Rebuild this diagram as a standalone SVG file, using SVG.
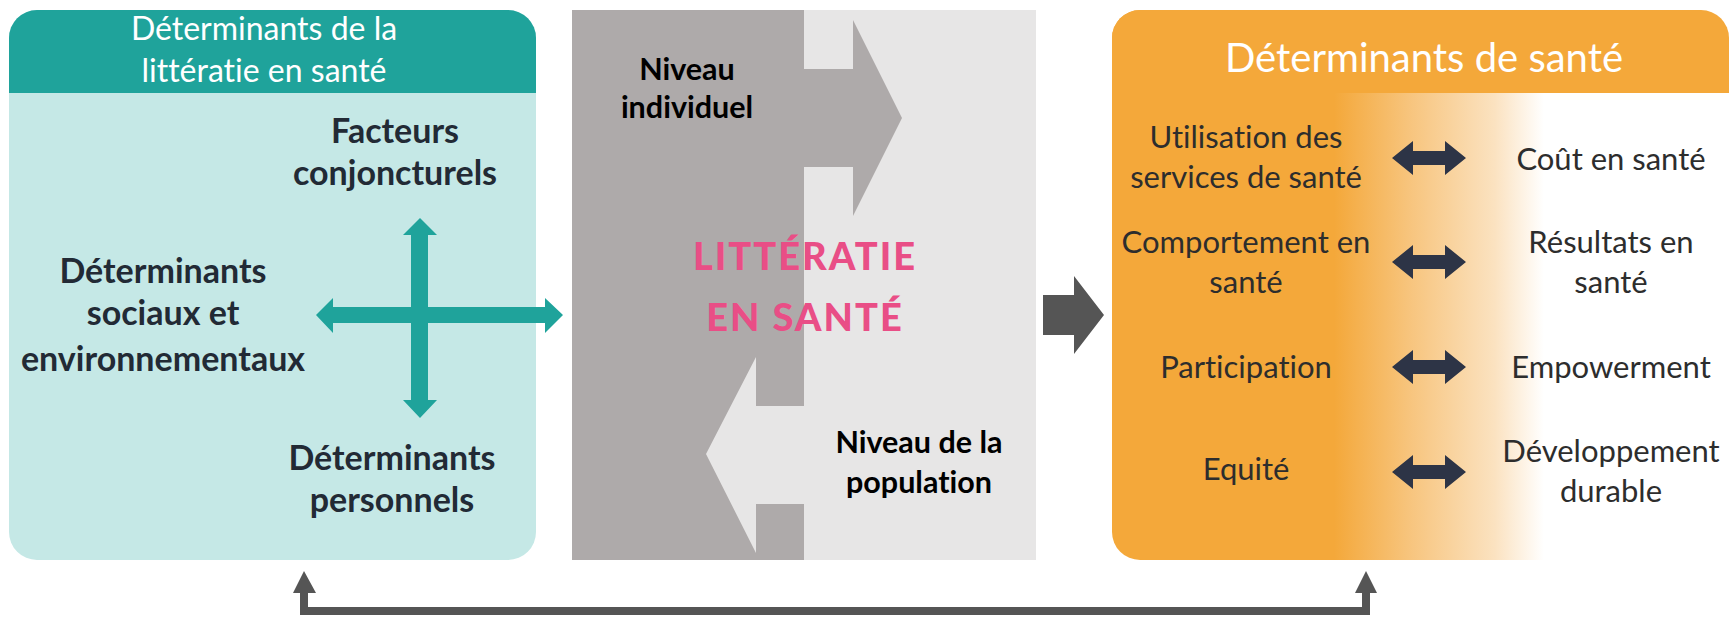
<svg xmlns="http://www.w3.org/2000/svg" width="1731" height="618" viewBox="0 0 1731 618">
<defs>
<linearGradient id="og" gradientUnits="userSpaceOnUse" x1="1112" y1="0" x2="1729" y2="0">
<stop offset="0" stop-color="#f4a83a"/>
<stop offset="0.36" stop-color="#f4a83a"/>
<stop offset="0.48" stop-color="#f7c47c"/>
<stop offset="0.62" stop-color="#fbe2c0"/>
<stop offset="0.70" stop-color="#ffffff"/>
<stop offset="1" stop-color="#ffffff"/>
</linearGradient>
<style>
text{font-variant-ligatures:none;font-feature-settings:"liga" 0}
.hd{font-family:Lato,"Liberation Sans",sans-serif;font-size:32px;fill:#ffffff;text-anchor:middle}
.hd2{font-family:Lato,"Liberation Sans",sans-serif;font-size:40px;fill:#ffffff;text-anchor:middle}
.lb{font-family:Lato,"Liberation Sans",sans-serif;font-size:34px;font-weight:bold;fill:#222a35;text-anchor:middle}
.mb{font-family:Lato,"Liberation Sans",sans-serif;font-size:30.5px;font-weight:bold;fill:#000000;text-anchor:middle}
.pk{font-family:Lato,"Liberation Sans",sans-serif;font-size:38px;font-weight:900;fill:#e94e86;text-anchor:middle;letter-spacing:2px}
.rt{font-family:Lato,"Liberation Sans",sans-serif;font-size:31px;fill:#2d2d2d;text-anchor:middle}
.teal{fill:#1fa39b}
.dk{fill:#2d3446}
</style>
</defs>
<rect width="1731" height="618" fill="#ffffff"/>

<g id="box-literacy-determinants">
<rect x="9" y="10" width="527" height="550" rx="28" fill="#c5e8e6"/>
<path d="M9 93 V38 A28 28 0 0 1 37 10 H508 A28 28 0 0 1 536 38 V93 Z" class="teal"/>
<text class="hd" x="264" y="40">Déterminants de la</text>
<text class="hd" x="264" y="82">littératie en santé</text>
<text class="lb" x="395" y="143">Facteurs</text>
<text class="lb" x="395" y="185">conjoncturels</text>
<text class="lb" x="163" y="283">Déterminants</text>
<text class="lb" x="163" y="325">sociaux et</text>
<text class="lb" x="163" y="371">environnementaux</text>
<text class="lb" x="392" y="470">Déterminants</text>
<text class="lb" x="392" y="512">personnels</text>
<path class="teal" d="M420 218 L437 235 H428 V307 H545 V298 L563 315 L545 333 V323 H428 V400 H437 L420 418 L403 400 H411 V323 H333 V333 L316 315 L333 298 V307 H411 V235 H403 Z"/>
</g>

<g id="box-health-literacy">
<rect x="572" y="10" width="464" height="550" fill="#e7e6e6"/>
<rect x="572" y="10" width="232" height="550" fill="#aeaaaa"/>
<path d="M804 69 H853 V20 L902 118 L853 216 V167 H804 Z" fill="#aeaaaa"/>
<path d="M804 406 H756 V357 L706 454 L756 553 V504 H804 Z" fill="#e7e6e6"/>
<text class="mb" x="687" y="80">Niveau</text>
<text class="mb" x="687" y="118">individuel</text>
<text class="mb" x="919" y="453">Niveau de la</text>
<text class="mb" x="919" y="493">population</text>
<text class="pk" x="805" y="270">LITTÉRATIE</text>
<text class="pk" x="805" y="331">EN SANTÉ</text>
</g>

<g id="box-health-determinants">
<path d="M1112 38 A28 28 0 0 1 1140 10 H1701 A28 28 0 0 1 1729 38 V560 H1140 A28 28 0 0 1 1112 532 Z" fill="url(#og)"/>
<path d="M1112 93 V38 A28 28 0 0 1 1140 10 H1701 A28 28 0 0 1 1729 38 V93 Z" fill="#f4a83a"/>
<text class="hd2" x="1424" y="72">Déterminants de santé</text>
<text class="rt" x="1246" y="148">Utilisation des</text>
<text class="rt" x="1246" y="188">services de santé</text>
<text class="rt" x="1611" y="170">Coût en santé</text>
<text class="rt" x="1246" y="253">Comportement en</text>
<text class="rt" x="1246" y="293">santé</text>
<text class="rt" x="1611" y="253">Résultats en</text>
<text class="rt" x="1611" y="293">santé</text>
<text class="rt" x="1246" y="378">Participation</text>
<text class="rt" x="1611" y="378">Empowerment</text>
<text class="rt" x="1246" y="480">Equité</text>
<text class="rt" x="1611" y="462">Développement</text>
<text class="rt" x="1611" y="502">durable</text>
<path class="dk" d="M1392 158 L1413 141 V151 H1445 V141 L1466 158 L1445 175 V165 H1413 V175 Z"/>
<path class="dk" d="M1392 262 L1413 245 V255 H1445 V245 L1466 262 L1445 279 V269 H1413 V279 Z"/>
<path class="dk" d="M1392 367 L1413 350 V360 H1445 V350 L1466 367 L1445 384 V374 H1413 V384 Z"/>
<path class="dk" d="M1392 472 L1413 455 V465 H1445 V455 L1466 472 L1445 489 V479 H1413 V489 Z"/>
</g>

<g id="connectors">
<path d="M1043 295 H1074 V276 L1104 315 L1074 354 V335 H1043 Z" fill="#555555"/>
<path d="M304 571 L316 593 H308 V607 H1362 V593 H1355 L1366 571 L1377 593 H1370 V615 H300 V593 H293 Z" fill="#555555"/>
</g>
</svg>
